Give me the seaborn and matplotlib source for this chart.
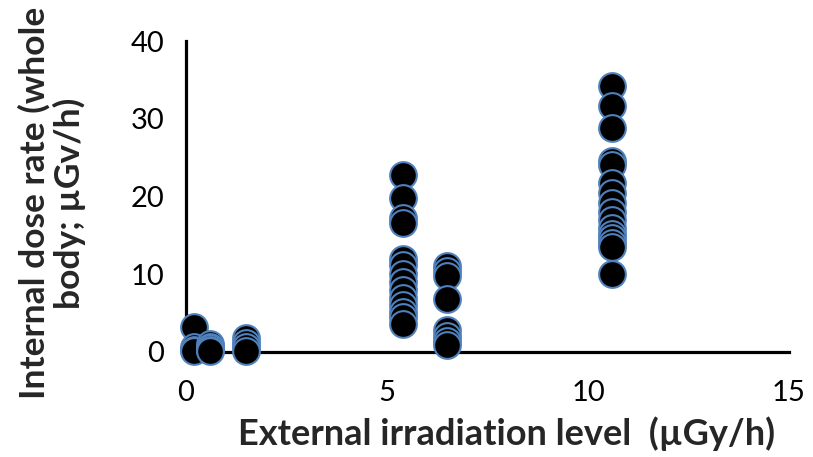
import matplotlib
matplotlib.use("Agg")
import matplotlib.pyplot as plt
import seaborn as sns
import pandas as pd

# External irradiation level (µGy/h) of each sampling group
ext_levels = [0.2, 0.6, 1.5, 5.4, 6.5, 10.6]
# Internal dose rate (whole body; µGv/h) read per group
dose_0_2 = [3.2, 0.6, 0.3, 0.1]
dose_0_6 = [1.0, 0.7, 0.5, 0.3, 0.1]
dose_1_5 = [1.8, 1.2, 0.6, 0.1]
dose_5_4 = [22.8, 19.8, 17.2, 16.6, 12.0, 11.2, 10.0, 9.0, 8.0, 7.0, 6.0, 5.2, 4.5, 3.6]
dose_6_5 = [11.0, 10.4, 9.8, 6.8, 2.8, 2.0, 1.4, 0.9]
dose_10_6 = [34.2, 31.6, 28.8, 24.6, 24.0, 21.8, 20.5, 19.2, 18.0, 17.0, 16.0,
             15.2, 14.6, 14.0, 13.5, 10.0]

x_ticks = [0, 5, 10, 15]
y_ticks = [0, 10, 20, 30, 40]

groups = [dose_0_2, dose_0_6, dose_1_5, dose_5_4, dose_6_5, dose_10_6]
xs, ys = [], []
for lvl, vals in zip(ext_levels, groups):
    for v in vals:
        xs.append(lvl)
        ys.append(v)
df = pd.DataFrame({"ext": xs, "dose": ys})

sns.set_theme(style="white")
plt.rcParams['font.family'] = ['Lato', 'DejaVu Sans']

fig = plt.figure(figsize=(8.13, 4.57), dpi=100)
ax = fig.add_axes([186/813, 1 - 352/457, (789 - 186)/813, (352 - 41)/457])

sns.scatterplot(data=df, x="ext", y="dose", ax=ax, s=370, color="black",
                edgecolor="#4F81BD", linewidth=1.5, clip_on=False, zorder=5)

ax.set_xlim(0, 15)
ax.set_ylim(0, 40)
ax.set_xticks(x_ticks)
ax.set_yticks(y_ticks)
ax.set_xticklabels([str(t) for t in x_ticks], fontsize=21)
ax.set_yticklabels([str(t) for t in y_ticks], fontsize=21)

for side in ["top", "right"]:
    ax.spines[side].set_visible(False)
for side in ["left", "bottom"]:
    ax.spines[side].set_linewidth(2.3)
    ax.spines[side].set_color("black")
    ax.spines[side].set_zorder(2)

ax.tick_params(axis="both", direction="out", length=6.5, width=2.2,
               color="black", labelcolor="black")
ax.tick_params(axis="y", pad=9)
ax.tick_params(axis="x", pad=14)

ax.set_xlabel("External irradiation level  (µGy/h)", fontsize=26,
              fontweight="bold")
ax.set_ylabel("Internal dose rate (whole\nbody; µGv/h)", fontsize=25.5,
              fontweight="bold", linespacing=1.08)
ax.xaxis.set_label_coords((507 - 186) / 603, (352 - 416) / 311)
ax.yaxis.set_label_coords((86 - 186) / 603, (352 - 203) / 311)

fig.savefig("out.png", dpi=100)
